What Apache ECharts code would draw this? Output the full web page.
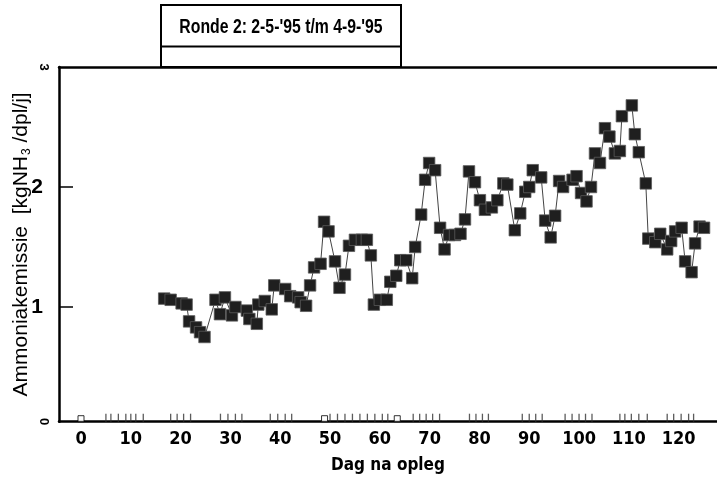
<!DOCTYPE html>
<html>
<head>
<meta charset="utf-8">
<script src="https://cdn.jsdelivr.net/npm/echarts@6/dist/echarts.min.js"></script>
<style>
  html, body { margin: 0; padding: 0; background: #fff; }
  #chart { width: 717px; height: 480px; }
</style>
</head>
<body>
<div id="chart"></div>
<script>
// dag na opleg (x) en ammoniakemissie (y)
const days = [
  16.7, 18.0, 20.2, 21.2, 21.7, 23.1, 23.9, 24.8, 27.0, 27.9,
  28.9, 30.3, 31.0, 33.3, 33.8, 35.3, 35.6, 36.9, 38.3, 38.8,
  41.0, 42.0, 43.6, 44.1, 45.2, 46.0, 46.8, 48.1, 48.8, 49.7,
  51.0, 51.9, 53.0, 53.8, 55.0, 56.4, 57.4, 58.2, 58.8, 60.0,
  61.4, 62.1, 63.3, 64.1, 65.3, 66.5, 67.1, 68.3, 69.1, 69.9,
  71.1, 72.1, 73.0, 73.9, 75.1, 76.2, 77.1, 77.9, 79.1, 80.1,
  81.1, 82.5, 83.6, 84.8, 85.6, 87.1, 88.2, 89.2, 90.0, 90.7,
  92.4, 93.2, 94.3, 95.2, 96.0, 96.8, 98.7, 99.5, 100.4, 101.5,
  102.4, 103.2, 104.2, 105.2, 106.1, 107.2, 108.2, 108.6, 110.6, 111.2,
  112.0, 113.4, 113.9, 115.3, 116.3, 117.7, 118.5, 119.3, 120.6, 121.3,
  122.6, 123.3, 124.2, 125.1
];
const ammonia = [
  1.07, 1.06, 1.03, 1.02, 0.88, 0.83, 0.79, 0.75, 1.06, 0.94,
  1.08, 0.93, 1.00, 0.97, 0.90, 0.86, 1.02, 1.05, 0.98, 1.18,
  1.15, 1.09, 1.08, 1.04, 1.01, 1.18, 1.33, 1.36, 1.71, 1.63,
  1.38, 1.16, 1.27, 1.51, 1.56, 1.56, 1.56, 1.43, 1.02, 1.06,
  1.06, 1.21, 1.26, 1.39, 1.39, 1.24, 1.50, 1.77, 2.06, 2.20,
  2.14, 1.66, 1.48, 1.60, 1.60, 1.61, 1.73, 2.13, 2.04, 1.89,
  1.81, 1.83, 1.89, 2.03, 2.02, 1.64, 1.78, 1.96, 2.00, 2.14,
  2.08, 1.72, 1.58, 1.76, 2.05, 2.00, 2.06, 2.09, 1.95, 1.88,
  2.00, 2.28, 2.20, 2.49, 2.42, 2.28, 2.30, 2.59, 2.68, 2.44,
  2.29, 2.03, 1.57, 1.54, 1.61, 1.48, 1.55, 1.63, 1.66, 1.38,
  1.29, 1.53, 1.67, 1.66
];
// streepjes en open blokjes langs de x-as
const markDays = [
  5, 6, 7.5, 9, 10, 11, 12.5,
  18, 19.3, 20.6, 22,
  28, 29.5, 31, 32.3,
  38, 39.5, 41, 42.3,
  50, 51.5, 53, 54.5, 56, 57.5, 59, 60.5, 61.6,
  66.7, 68, 69.3, 70.6, 72,
  78, 79.3, 80.6, 81.8,
  88.6, 90, 91.3, 92.6,
  97.2, 98.6, 100, 101.3, 102.6,
  108.2, 109.2, 110.5, 112, 113.7,
  117.7, 119, 120.5, 122, 123
];
const boxDays = [0, 48.9, 63.5];

const xTicks = [0, 10, 20, 30, 40, 50, 60, 70, 80, 90, 100, 110, 120];
const yTicks = [1, 2];
const yEndTicks = [3];

const X_MIN = -4.42, X_MAX = 127.7;
const Y_MIN = 0.044, Y_MAX = 3;
const narrow = "'Liberation Sans Narrow', 'DejaVu Sans Condensed', sans-serif";
const wide = "'Liberation Sans', Arial, sans-serif";

const chart = echarts.init(document.getElementById('chart'));

const option = {
  animation: false,
  backgroundColor: '#fff',
  grid: { left: 59, right: 0, top: 67, bottom: 58.3, outerBoundsMode: 'none', containLabel: false },
  xAxis: [{
    type: 'value', min: X_MIN, max: X_MAX, position: 'bottom',
    axisLine: { show: true, onZero: false, lineStyle: { color: '#000', width: 2.5 } },
    axisTick: { show: false },
    splitLine: { show: false },
    axisLabel: {
      customValues: xTicks, color: '#000', fontFamily: narrow,
      fontWeight: 'bold', fontSize: 18, margin: 9
    },
    name: 'Dag na opleg', nameLocation: 'middle', nameGap: 35, nameMoveOverlap: false,
    nameTextStyle: { color: '#000', fontFamily: narrow, fontWeight: 'bold', fontSize: 17 }
  }, {
    type: 'value', min: X_MIN, max: X_MAX, position: 'top',
    axisLine: { show: true, onZero: false, lineStyle: { color: '#000', width: 2.5 } },
    axisTick: { show: false }, axisLabel: { show: false }, splitLine: { show: false }
  }],
  yAxis: [{
    type: 'value', min: Y_MIN, max: Y_MAX, position: 'left',
    axisLine: { show: true, onZero: false, lineStyle: { color: '#000', width: 2.5 } },
    axisTick: { show: true, customValues: yTicks, inside: true, length: 14,
      lineStyle: { color: '#000', width: 1.5 } },
    splitLine: { show: false },
    axisLabel: {
      customValues: yTicks, color: '#000', fontFamily: wide,
      fontWeight: 'bold', fontSize: 21, margin: 16
    },
    name: '{a|Ammoniakemissie  [kgNH}{s|3}{a| /dpl/j]}',
    nameLocation: 'middle', nameGap: 26, nameRotate: 90, nameMoveOverlap: false,
    nameTextStyle: {
      rich: {
        a: { fontFamily: wide, fontSize: 21, color: '#000', lineHeight: 24 },
        s: { fontFamily: wide, fontSize: 12, color: '#000', lineHeight: 24, verticalAlign: 'bottom', padding: [0, 0, 0, 1] }
      }
    }
  }, {
    // de gedraaide eindlabels 0 en 3
    type: 'value', min: Y_MIN, max: Y_MAX, position: 'left',
    axisLine: { show: false, onZero: false }, axisTick: { show: false }, splitLine: { show: false },
    axisLabel: {
      customValues: [Y_MIN, yEndTicks[0]], rotate: -90, color: '#000',
      fontFamily: wide, fontWeight: 'bold', fontSize: 13, margin: 9,
      formatter: v => (v > 2.5 ? '3' : '0')
    }
  }],
  series: [{
    type: 'line',
    data: days.map((d, i) => [d, ammonia[i]]),
    symbol: 'rect', symbolSize: 11.5,
    lineStyle: { color: '#444', width: 1 },
    itemStyle: { color: '#1f1f1f', borderColor: '#5a5a5a', borderWidth: 0.8 },
    z: 5
  }, {
    type: 'scatter',
    data: markDays.map(d => [d, Y_MIN]),
    symbol: 'rect', symbolSize: [1.3, 8], symbolOffset: [0, -4],
    itemStyle: { color: '#333' },
    clip: false, z: 3
  }, {
    type: 'scatter',
    data: boxDays.map(d => [d, Y_MIN]),
    symbol: 'rect', symbolSize: [6, 6], symbolOffset: [0, -3],
    itemStyle: { color: '#fff', borderColor: '#000', borderWidth: 1 },
    clip: false, z: 3
  }],
  graphic: [{
    type: 'rect',
    shape: { x: 161, y: 5, width: 240, height: 62 },
    style: { fill: 'none', stroke: '#000', lineWidth: 2 }
  }, {
    type: 'line',
    shape: { x1: 161, y1: 46.5, x2: 401, y2: 46.5 },
    style: { stroke: '#000', lineWidth: 2 }
  }, {
    type: 'text', x: 281, y: 27, scaleX: 0.79,
    style: {
      text: "Ronde 2: 2-5-'95 t/m 4-9-'95", fill: '#000',
      font: "bold 20px 'Liberation Sans', Arial, sans-serif",
      align: 'center', verticalAlign: 'middle'
    }
  }]
};

chart.setOption(option);
</script>
</body>
</html>
